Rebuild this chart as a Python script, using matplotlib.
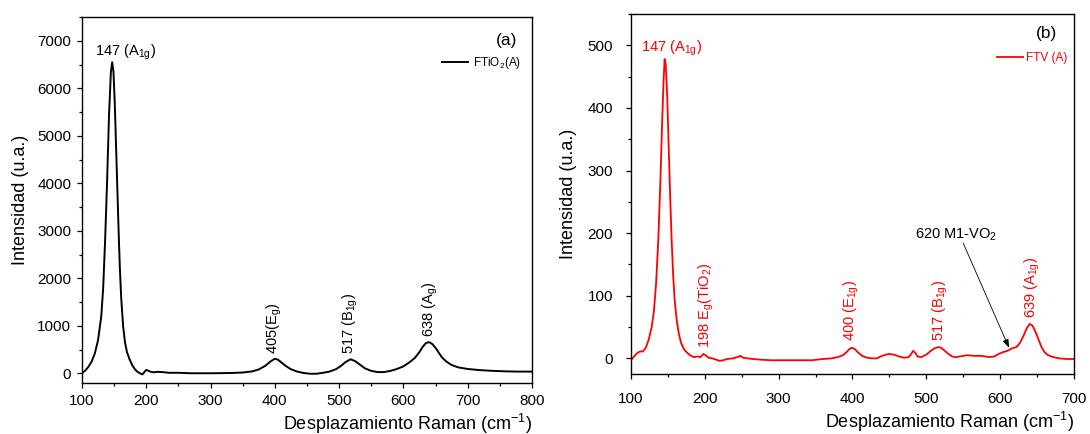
import matplotlib
matplotlib.use("Agg")
import matplotlib.pyplot as plt
from matplotlib.ticker import MultipleLocator

plt.rcParams["font.family"] = ["Liberation Sans", "DejaVu Sans"]
plt.rcParams["mathtext.default"] = "regular"

# --- (a) FTiO2(A) spectrum ---
shift_a = [100, 105, 110, 115, 120, 125, 130, 133, 136, 139, 142, 145, 147, 149,
           151, 153, 155, 157, 159, 161, 164, 167, 170, 174, 178, 182, 186, 190,
           194, 197, 200, 203, 207, 212, 218, 225, 235, 250, 270, 300, 330, 350,
           365, 375, 385, 393, 400, 405, 410, 417, 425, 435, 445, 455, 465, 475,
           485, 495, 503, 510, 518, 525, 532, 540, 550, 560, 570, 580, 590, 600,
           610, 618, 625, 630, 635, 640, 645, 650, 655, 660, 667, 675, 685, 700,
           720, 740, 760, 780, 800]
inten_a = [10, 60, 140, 250, 420, 700, 1200, 1800, 2800, 4000, 5400, 6350, 6550,
           6350, 5700, 4800, 3900, 3000, 2200, 1600, 1000, 650, 450, 300, 180, 95,
           40, 5, -20, 30, 75, 60, 35, 25, 35, 30, 15, 15, 5, 5, 10, 20, 45, 85,
           160, 250, 310, 290, 235, 160, 90, 40, 10, -5, -5, 15, 40, 90, 160, 240,
           300, 260, 190, 110, 55, 30, 30, 55, 95, 150, 240, 330, 450, 560, 640,
           660, 620, 540, 440, 340, 250, 180, 130, 95, 70, 55, 45, 40, 40]

# --- (b) FTV(A) spectrum ---
shift_b = [100, 104, 108, 112, 116, 120, 124, 128, 131, 134, 137, 140, 142, 144,
           145.5, 147, 149, 151, 153, 155, 157, 159, 162, 165, 168, 172, 176, 180,
           185, 190, 194, 198, 201, 205, 210, 215, 220, 225, 230, 238, 244, 248,
           252, 258, 265, 275, 290, 310, 330, 345, 360, 372, 380, 387, 392, 396,
           399, 403, 408, 413, 420, 427, 433, 438, 445, 450, 456, 463, 470, 476,
           479, 482, 485, 488, 493, 500, 506, 511, 516, 520, 525, 530, 535, 540,
           545, 555, 565, 575, 585, 592, 598, 604, 610, 616, 622, 627, 632, 636,
           640, 644, 648, 652, 656, 660, 665, 672, 680, 690, 700]
inten_b = [-3, 3, 8, 11, 11, 17, 30, 50, 75, 120, 190, 290, 370, 440, 478, 470,
           420, 340, 260, 190, 135, 95, 60, 38, 24, 14, 9, 5, 2, 3, 2, 7, 5, 1, 0,
           -2, -4, -3, -1, 0, 2, 4, 1, 0, -1, -2, -3, -3, -3, -3, -1, 0, 2, 5, 10,
           15, 17, 15, 9, 4, 1, 0, 0, 3, 6, 7, 6, 3, 1, 2, 6, 12, 9, 3, 2, 6, 12,
           16, 18, 17, 12, 7, 3, 2, 3, 5, 4, 4, 2, 3, 7, 10, 12, 16, 18, 25, 37,
           48, 55, 52, 42, 30, 18, 10, 5, 2, 0, -1, -1]

# peak labels: (x, y, text)
peaks_a = [(400, 420, "405(E$_g$)"),
           (518, 400, "517 (B$_{1g}$)"),
           (642, 760, "638 (A$_g$)")]
peaks_b = [(202, 17, "198 E$_g$(TiO$_2$)"),
           (399, 28, "400 (E$_{1g}$)"),
           (519, 27, "517 (B$_{1g}$)"),
           (643, 65, "639 (A$_{1g}$)")]

XLABEL = "Desplazamiento Raman (cm$^{-1}$)"
YLABEL = "Intensidad (u.a.)"


def style_axes(ax, tick_pad, ylabelpad):
    for sp in ax.spines.values():
        sp.set_linewidth(1.0)
    ax.tick_params(which="both", direction="out", top=False, right=False,
                   labelsize=11, pad=tick_pad, width=0.9)
    ax.tick_params(which="major", length=3.8)
    ax.tick_params(which="minor", length=2.2)
    ax.set_xlabel(XLABEL, fontsize=13, loc="right", labelpad=3)
    ax.set_ylabel(YLABEL, fontsize=13, labelpad=ylabelpad)


fig = plt.figure(figsize=(10.9, 4.34), dpi=100)
ax1 = fig.add_axes([0.0752, 0.1175, 0.4128, 0.8433])
ax2 = fig.add_axes([0.5789, 0.1382, 0.4064, 0.8295])

# panel (a)
ax1.plot(shift_a, inten_a, color="black", lw=1.4, label="FTiO$_2$(A)")
ax1.set_xlim(100, 800)
ax1.set_ylim(-200, 7500)
ax1.xaxis.set_major_locator(MultipleLocator(100))
ax1.xaxis.set_minor_locator(MultipleLocator(50))
ax1.yaxis.set_major_locator(MultipleLocator(1000))
ax1.yaxis.set_minor_locator(MultipleLocator(500))
style_axes(ax1, 4, 6)
ax1.text(120, 6680, "147 (A$_{1g}$)", fontsize=10.5, ha="left", va="baseline")
for x, y, t in peaks_a:
    ax1.text(x, y, t, rotation=90, fontsize=10.5, ha="center", va="bottom")
ax1.text(0.944, 0.937, "(a)", transform=ax1.transAxes, fontsize=12.5,
         ha="center", va="center")
ax1.legend(loc="center right", bbox_to_anchor=(0.976, 0.874), frameon=False,
           fontsize=8.5, borderaxespad=0, borderpad=0, handlelength=2.2,
           handletextpad=0.4)

# panel (b)
ax2.plot(shift_b, inten_b, color="red", lw=1.3, label="FTV (A)")
ax2.set_xlim(100, 700)
ax2.set_ylim(-25, 550)
ax2.xaxis.set_major_locator(MultipleLocator(100))
ax2.xaxis.set_minor_locator(MultipleLocator(50))
ax2.yaxis.set_major_locator(MultipleLocator(100))
ax2.yaxis.set_minor_locator(MultipleLocator(50))
style_axes(ax2, 9, 8)
ax2.text(113, 490, "147 (A$_{1g}$)", fontsize=10.5, ha="left", va="baseline",
         color="red")
for x, y, t in peaks_b:
    ax2.text(x, y, t, rotation=90, fontsize=10.5, ha="center", va="bottom",
             color="red")
ax2.text(540, 192, "620 M1-VO$_2$", fontsize=10.5, ha="center", va="baseline")
ax2.annotate("", xy=(612, 17), xytext=(550, 184),
             arrowprops=dict(arrowstyle="-|>,head_length=0.5,head_width=0.18",
                             color="black", lw=0.6, shrinkA=0, shrinkB=0))
ax2.text(0.939, 0.947, "(b)", transform=ax2.transAxes, fontsize=12.5,
         ha="center", va="center")
ax2.legend(loc="center right", bbox_to_anchor=(0.984, 0.878), frameon=False,
           fontsize=8.5, borderaxespad=0, borderpad=0, handlelength=2.2,
           handletextpad=0.2, labelcolor="linecolor")

fig.savefig("out.png", dpi=100)
